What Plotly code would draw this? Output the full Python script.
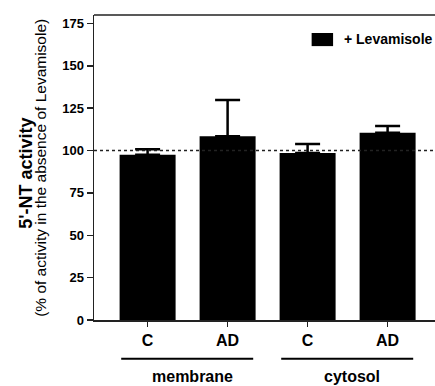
import plotly.graph_objects as go

# Data
categories = ["C", "AD", "C", "AD"]
groups = ["membrane", "cytosol"]
values = [97.5, 108.5, 98.5, 110.5]
errors_up = [3.3, 21.3, 5.3, 4.0]
y_ticks = [0, 25, 50, 75, 100, 125, 150, 175]
series_name = "+ Levamisole"
reference_level = 100

x_pos = list(range(len(categories)))
FONT = "Liberation Sans, Arial, sans-serif"
AX = "#222222"

fig = go.Figure()
fig.add_trace(go.Bar(
    x=x_pos, y=values, width=0.7, name=series_name,
    marker=dict(color="black", line=dict(color="black", width=0)),
    error_y=dict(type="data", array=errors_up, arrayminus=[0]*4, symmetric=False,
                 color="black", thickness=2.5, width=12.5),
    showlegend=False,
))

fig.update_layout(
    width=440, height=386,
    margin=dict(l=94, r=0, t=15, b=66),
    plot_bgcolor="white", paper_bgcolor="white",
    font=dict(family=FONT, color="black"),
    bargap=0.3,
    dragmode=False,
)
fig.update_xaxes(
    range=[-0.67, 3.655], tickvals=x_pos, ticktext=categories,
    showgrid=False, zeroline=False,
    showline=True, linecolor=AX, linewidth=1.5, mirror=False,
    ticks="outside", ticklen=5, tickwidth=1.5, tickcolor=AX,
    tickfont=dict(family=FONT, size=16, weight=700, color="black"),
)
fig.update_yaxes(
    range=[0, 180], tickvals=y_ticks,
    showgrid=False, zeroline=False,
    showline=True, linecolor=AX, linewidth=1.5, mirror=False,
    ticks="outside", ticklen=6, tickwidth=1.5, tickcolor=AX,
    tickfont=dict(family=FONT, size=13, weight=700, color="black"),
)

# top frame line
fig.add_shape(type="line", xref="paper", yref="paper", x0=0, x1=1, y0=1, y1=1,
              line=dict(color=AX, width=1.5))

# dotted reference line
fig.add_shape(type="line", xref="paper", yref="y", x0=0, x1=1,
              y0=reference_level, y1=reference_level,
              line=dict(color=AX, width=1.5, dash="dot"))

# group brackets and labels
group_spans = [(-0.33, 1.32), (1.67, 3.32)]
for (g0, g1), g in zip(group_spans, groups):
    fig.add_shape(type="line", xref="x", yref="paper", x0=g0, x1=g1,
                  y0=-0.127, y1=-0.127, line=dict(color="black", width=2))
    fig.add_annotation(x=(g0 + g1) / 2 + 0.06, y=-0.185, xref="x", yref="paper",
                       text=g, showarrow=False, xanchor="center", yanchor="middle",
                       font=dict(family=FONT, size=16, weight=700, color="black"))

# y-axis titles (plot area is 346 px wide)
fig.add_annotation(x=-0.199, y=0.48, xref="paper", yref="paper",
                   text="5'-NT activity", textangle=-90, showarrow=False,
                   xanchor="center", yanchor="middle",
                   font=dict(family=FONT, size=18, weight=700, color="black"))
fig.add_annotation(x=-0.155, y=0.5, xref="paper", yref="paper",
                   text="(% of activity in the absence of Levamisole)", textangle=-90,
                   showarrow=False, xanchor="center", yanchor="middle",
                   font=dict(family=FONT, size=15.5, color="black"))

# legend (manual)
fig.add_shape(type="rect", xref="paper", yref="paper", x0=0.629, x1=0.691,
              y0=0.898, y1=0.941, fillcolor="black", line=dict(width=0))
fig.add_annotation(x=0.716, y=0.92, xref="paper", yref="paper", text=series_name,
                   showarrow=False, xanchor="left", yanchor="middle",
                   font=dict(family=FONT, size=14, weight=700, color="black"))

fig.write_html("out.html", config={"displayModeBar": False, "staticPlot": True},
               post_script="document.body.style.margin='0';document.body.style.overflow='hidden';document.documentElement.style.overflow='hidden';")
